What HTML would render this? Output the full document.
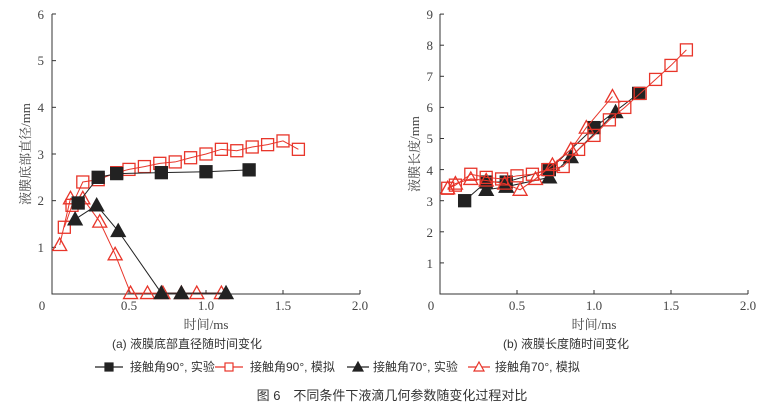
<!DOCTYPE html>
<html><head><meta charset="utf-8"><style>
body{margin:0;background:#fff;}
svg{display:block;font-family:"Liberation Serif","Noto Serif CJK SC",serif;}
.cj{font-family:"Liberation Sans","Noto Sans CJK SC",sans-serif;}
</style></head><body>
<svg id="s" width="784" height="405" viewBox="0 0 784 405" xmlns="http://www.w3.org/2000/svg">
<g stroke="#333" stroke-width="1" fill="none">
<path d="M52,14V294H360"/>
<path d="M440,14V294H748"/>
</g>
<g id="ticks" stroke="#333" stroke-width="1"></g>
<g font-size="13" fill="#444" text-anchor="middle">
<text x="42" y="310">0</text>
<text x="129" y="310">0.5</text><text x="206" y="310">1.0</text><text x="283" y="310">1.5</text><text x="360" y="310">2.0</text>
<text x="44" y="252" text-anchor="end">1</text><text x="44" y="205" text-anchor="end">2</text><text x="44" y="159" text-anchor="end">3</text><text x="44" y="112" text-anchor="end">4</text><text x="44" y="65" text-anchor="end">5</text><text x="44" y="19" text-anchor="end">6</text>
<text x="431" y="310" >0</text>
<text x="517" y="310">0.5</text><text x="594" y="310">1.0</text><text x="671" y="310">1.5</text><text x="748" y="310">2.0</text>
<text x="433" y="268" text-anchor="end">1</text><text x="433" y="237" text-anchor="end">2</text><text x="433" y="206" text-anchor="end">3</text><text x="433" y="175" text-anchor="end">4</text><text x="433" y="143" text-anchor="end">5</text><text x="433" y="112" text-anchor="end">6</text><text x="433" y="81" text-anchor="end">7</text><text x="433" y="50" text-anchor="end">8</text><text x="433" y="19" text-anchor="end">9</text>
<text x="206" y="329">时间/ms</text>
<text x="594" y="329">时间/ms</text>
<text transform="translate(30,154) rotate(-90)">液膜底部直径/mm</text>
<text transform="translate(419,154) rotate(-90)">液膜长度/mm</text>
</g>
<g id="data"></g>
<g class="cj" font-size="12" fill="#333">
<text x="112" y="348">(a) 液膜底部直径随时间变化</text>
<text x="503" y="348">(b) 液膜长度随时间变化</text>
<text x="130" y="371">接触角90°, 实验</text>
<text x="250" y="371">接触角90°, 模拟</text>
<text x="373" y="371">接触角70°, 实验</text>
<text x="495" y="371">接触角70°, 模拟</text>
<text x="392" y="400" font-size="13" text-anchor="middle">图 6　不同条件下液滴几何参数随变化过程对比</text>
</g>
<g id="leg"></g>
</svg>
<script>
var NS="http://www.w3.org/2000/svg";
function el(p,t,a){var e=document.createElementNS(NS,t);for(var k in a)e.setAttribute(k,a[k]);p.appendChild(e);return e;}
var T=document.getElementById('ticks');
for(var i=0;i<=4;i++){var x=52+i*77;el(T,'line',{x1:x,x2:x,y1:294,y2:290});x=440+i*77;el(T,'line',{x1:x,x2:x,y1:294,y2:290});}
for(var i=1;i<=6;i++){var y=294-i*46.67;el(T,'line',{x1:52,x2:56,y1:y,y2:y});}
for(var i=1;i<=9;i++){var y=294-i*31.1;el(T,'line',{x1:440,x2:444,y1:y,y2:y});}
var D=document.getElementById('data');
function mk(g,t,x,y,c,f){
 if(t=='s') el(g,'rect',{x:x-6,y:y-6,width:12,height:12,fill:f?c:'none',stroke:c,'stroke-width':1.3});
 else el(g,'path',{d:'M'+x+','+(y-7)+'L'+(x+7)+','+(y+5.5)+'L'+(x-7)+','+(y+5.5)+'Z',fill:f?c:'none',stroke:c,'stroke-width':1.3});
}
function series(ox,sy,pts,t,c,f){
 var P=pts.map(function(p){return [ox+p[0]*154,294-p[1]*sy];});
 el(D,'polyline',{points:P.map(function(p){return p.join(',')}).join(' '),fill:'none',stroke:c,'stroke-width':1});
 P.forEach(function(p){mk(D,t,p[0],p[1],c,f);});
}
var K='#222',R='#e8352a';
var L=46.67,Rs=31.1;
series(52,L,[[0.08,1.43],[0.13,1.9],[0.2,2.4],[0.3,2.45],[0.42,2.6],[0.5,2.67],[0.6,2.73],[0.7,2.8],[0.8,2.83],[0.9,2.92],[1.0,3.0],[1.1,3.1],[1.2,3.07],[1.3,3.15],[1.4,3.2],[1.5,3.28],[1.6,3.1]],'s',R,0);
series(52,L,[[0.05,1.05],[0.12,2.05],[0.2,2.05],[0.31,1.55],[0.41,0.85],[0.51,0.02],[0.62,0.02],[0.72,0.02],[0.84,0.02],[0.94,0.02],[1.1,0.02]],'t',R,0);
series(52,L,[[0.17,1.95],[0.3,2.5],[0.42,2.58],[0.71,2.6],[1.0,2.62],[1.28,2.66]],'s',K,1);
series(52,L,[[0.15,1.6],[0.29,1.9],[0.43,1.35],[0.71,0.02],[0.84,0.02],[1.13,0.02]],'t',K,1);
series(440,Rs,[[0.16,3.0],[0.3,3.6],[0.43,3.6],[0.71,4.0],[1.0,5.35],[1.29,6.45]],'s',K,1);
series(440,Rs,[[0.3,3.35],[0.43,3.45],[0.71,3.75],[0.85,4.4],[1.14,5.85]],'t',K,1);
series(440,Rs,[[0.05,3.4],[0.1,3.5],[0.2,3.85],[0.3,3.75],[0.4,3.7],[0.5,3.8],[0.6,3.85],[0.7,4.0],[0.8,4.1],[0.9,4.65],[1.0,5.1],[1.1,5.6],[1.2,6.0],[1.3,6.45],[1.4,6.9],[1.5,7.35],[1.6,7.85]],'s',R,0);
series(440,Rs,[[0.05,3.4],[0.1,3.55],[0.2,3.7],[0.3,3.65],[0.42,3.55],[0.52,3.35],[0.62,3.7],[0.73,4.15],[0.85,4.65],[0.95,5.35],[1.12,6.35]],'t',R,0);
var G=document.getElementById('leg');
function lg(x1,x2,t,c,f){var y=367;el(G,'line',{x1:x1,x2:x2,y1:y,y2:y,stroke:c,'stroke-width':1.2});var m=(x1+x2)/2;
 if(t=='s') el(G,'rect',{x:m-4,y:y-4,width:8,height:8,fill:f?c:'#fff',stroke:c,'stroke-width':1.2});
 else el(G,'path',{d:'M'+m+','+(y-5)+'L'+(m+5)+','+(y+4)+'L'+(m-5)+','+(y+4)+'Z',fill:f?c:'#fff',stroke:c,'stroke-width':1.2});}
lg(95,123,'s',K,1);lg(215,243,'s',R,0);lg(347,369,'t',K,1);lg(468,490,'t',R,0);
</script>
</body></html>
